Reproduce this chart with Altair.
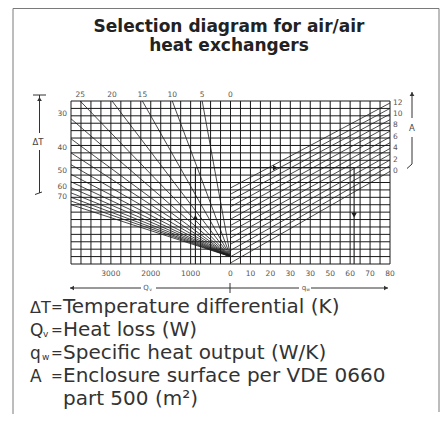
import altair as alt
import pandas as pd

# ---------------- values ----------------
# Left quadrant: heat loss Qv (W) – 0 at the centre line, 4000 at the left edge
Qv_grid = [0, 250, 500, 750, 1000, 1250, 1500, 1750, 2000, 2250, 2500, 2750,
           3000, 3250, 3500, 3750, 4000]
# Right quadrant: specific heat output qw (W/K) – 0 .. 80
qw_grid = [0, 5, 10, 15, 20, 25, 30, 35, 40, 45, 50, 55, 60, 65, 70, 75, 80]
# Horizontal grid rows (nomogram level, 0 = pivot of the ΔT fan)
level_grid = [-1, 0, 1, 2, 3, 4, 5, 6, 7, 8, 9, 10, 11, 12, 13, 14, 15, 16,
              17, 18, 19, 20, 21]

# ΔT lines (K): all start at the pivot, end on the top or left border
dT_values = [5, 10, 15, 20, 25, 30, 35, 40, 45, 50, 55, 60, 65, 70, 75, 80]
dT_end_Qv = [710, 1460, 2210, 2970, 3770, 4000, 4000, 4000, 4000, 4000, 4000,
             4000, 4000, 4000, 4000, 4000]
dT_end_level = [21, 21, 21, 21, 21, 18.6, 15.9, 14.0, 12.4, 11.1, 10.1, 9.3,
                8.6, 8.0, 7.5, 7.0]

# Enclosure surface lines A (m²): level at qw = 0 and at qw = 80
A_values = [0, 1, 2, 3, 4, 5, 6, 7, 8, 9, 10, 11, 12]
A_level_q0 = [-0.86, -0.02, 0.83, 1.67, 2.51, 3.36, 4.20, 5.04, 5.88, 6.73,
              7.57, 8.42, 9.26]
A_level_q80 = [11.50, 12.27, 13.04, 13.80, 14.59, 15.37, 16.14, 16.93, 17.72,
               18.48, 19.24, 20.00, 20.73]

# Worked example drawn in the chart
example_Qv = 880
example_level = 12
example_qw = 62
example_arrows_side = ["Q", "q", "q"]
example_arrows_val = [880, 22.5, 62]
example_arrows_level = [5.3, 12, 5.6]
example_arrows_shape = ["triangle-up", "triangle-right", "triangle-down"]

# Tick labels
Qv_tick_values = [3000, 2000, 1000, 0]
Qv_tick_labels = ["3000", "2000", "1000", "0"]
qw_tick_values = [10, 20, 30, 40, 50, 60, 70, 80]
qw_tick_labels = ["10", "20", "30", "30", "50", "60", "70", "80"]
dT_top_labels = ["25", "20", "15", "10", "5", "0"]
dT_top_Qv = [3770, 2970, 2210, 1460, 710, 0]
dT_left_labels = ["30", "40", "50", "60", "70"]
dT_left_level = [19.3, 14.6, 11.5, 9.4, 8.0]
A_labels = ["12", "10", "8", "6", "4", "2", "0"]
A_label_level = [20.73, 19.24, 17.72, 16.14, 14.59, 13.04, 11.50]

title_lines = ["Selection diagram for air/air", "heat exchangers"]
legend_symbols = ["ΔT", "Q", "q", "A"]
legend_subs = ["", "v", "w", ""]
legend_texts = ["Temperature differential (K)", "Heat loss (W)",
                "Specific heat output (W/K)", "Enclosure surface per VDE 0660",
                "part 500 (m²)"]

# ---------------- chart ----------------
W, H = 319, 163
FONT = "DejaVu Sans"
INK = "#1a1a1a"
XS = alt.Scale(domain=[-16, 16], nice=False, zero=False)
YS = alt.Scale(domain=[-1, 21], nice=False, zero=False)


def tocol(s, v):
    return f"datum.{s} == 'Q' ? -datum.{v} / 250 : datum.{v} / 5"


def seg_layer(rows, width, color=INK):
    df = pd.DataFrame(rows, columns=["s0", "v0", "l0", "s1", "v1", "l1"])
    return alt.Chart(df).transform_calculate(
        c0=tocol("s0", "v0"), c1=tocol("s1", "v1")
    ).mark_rule(color=color, strokeWidth=width).encode(
        x=alt.X("c0:Q", scale=XS, axis=None),
        y=alt.Y("l0:Q", scale=YS, axis=None),
        x2="c1:Q", y2="l1:Q")


grid_rows = ([("Q", v, -1, "Q", v, 21) for v in Qv_grid] +
             [("q", v, -1, "q", v, 21) for v in qw_grid] +
             [("Q", 4000, l, "q", 80, l) for l in level_grid])
dt_rows = [("Q", 0, 0, "Q", q, l) for q, l in zip(dT_end_Qv, dT_end_level)]
a_rows = [("q", 0, a0, "q", 80, a1) for a0, a1 in zip(A_level_q0, A_level_q80)]
path_rows = [("Q", example_Qv, -1, "Q", example_Qv, example_level),
             ("Q", example_Qv, example_level, "q", example_qw, example_level),
             ("q", example_qw, example_level, "q", example_qw, -1)]

layers = [seg_layer(grid_rows, 1.0), seg_layer(dt_rows, 0.8),
          seg_layer(a_rows, 0.8), seg_layer(path_rows, 1.1)]

arrows = pd.DataFrame({"s": example_arrows_side, "v": example_arrows_val,
                       "l": example_arrows_level, "shape": example_arrows_shape})
layers.append(alt.Chart(arrows).transform_calculate(c=tocol("s", "v")).mark_point(
    filled=True, color=INK, opacity=1, size=30).encode(
    x=alt.X("c:Q", scale=XS, axis=None), y=alt.Y("l:Q", scale=YS, axis=None),
    shape=alt.Shape("shape:N", scale=None)))


def label_layer(df, **kw):
    return alt.Chart(df).transform_calculate(c=tocol("s", "v")).mark_text(
        font=FONT, color="#555", fontSize=7.5, **kw).encode(
        x=alt.X("c:Q", scale=XS, axis=None), y=alt.Y("l:Q", scale=YS, axis=None),
        text="t:N")


bottom_df = pd.DataFrame({"s": ["Q"] * 4 + ["q"] * 8,
                          "v": Qv_tick_values + qw_tick_values, "l": -1,
                          "t": Qv_tick_labels + qw_tick_labels})
top_df = pd.DataFrame({"s": "Q", "v": dT_top_Qv, "l": 21, "t": dT_top_labels})
left_df = pd.DataFrame({"s": "Q", "v": 4000, "l": dT_left_level, "t": dT_left_labels})
right_df = pd.DataFrame({"s": "q", "v": 80, "l": A_label_level, "t": A_labels})
layers += [label_layer(bottom_df, dy=10),
           label_layer(top_df, dy=-6),
           label_layer(left_df, align="right", dx=-4),
           label_layer(right_df, align="left", dx=3)]

# ---------------- decorations (pixel positions relative to plot area) ----------------
deco_rules = pd.DataFrame([
    (-58, -92.5, -58, 313), (-58, -92.5, 368, -92.5), (368, -92.5, 368, 311),  # frame
    (-38, -6, -25, -6), (-31.5, -6, -31.5, 32), (-31.5, 49, -31.5, 92),        # ΔT arrow
    (-36, 93.5, -29, 91),
    (341, -9, 341, 17), (341, 36, 341, 63), (341, 63, 336, 67.5),              # A arrow
    (-1, 187, 70, 187), (85, 187, 228, 187), (240, 187, 317, 187),             # Qv / qw
    (159, 182, 159, 192),
], columns=["x", "y", "x2", "y2"])
deco_rules["k"] = ["frame"] * 3 + ["ink"] * 11
layers.append(alt.Chart(deco_rules).mark_rule(strokeWidth=1).encode(
    x=alt.X("x:Q", scale=None, axis=None), y=alt.Y("y:Q", scale=None, axis=None),
    x2="x2:Q", y2="y2:Q",
    color=alt.Color("k:N", scale=alt.Scale(domain=["frame", "ink"],
                                           range=["#7a7a7a", "#333"]), legend=None)))

deco_pts = pd.DataFrame({"x": [-31.5, 341, 1, 315], "y": [-2, -7, 187, 187],
                         "shape": ["triangle-up", "triangle-up", "triangle-left",
                                   "triangle-right"]})
layers.append(alt.Chart(deco_pts).mark_point(filled=True, color="#333", opacity=1,
                                             size=22).encode(
    x=alt.X("x:Q", scale=None, axis=None), y=alt.Y("y:Q", scale=None, axis=None),
    shape=alt.Shape("shape:N", scale=None)))


def text_layer(xs, ys, texts, size, align="left", baseline="alphabetic",
               weight="normal", color="#333"):
    df = pd.DataFrame({"x": xs, "y": ys, "t": texts})
    return alt.Chart(df).mark_text(font=FONT, fontSize=size, align=align,
                                   baseline=baseline, fontWeight=weight,
                                   color=color).encode(
        x=alt.X("x:Q", scale=None, axis=None), y=alt.Y("y:Q", scale=None, axis=None),
        text="t:N")


layers.append(text_layer([158, 158], [-69, -50], title_lines, 17, align="center",
                         weight="bold", color="#222"))
layers.append(text_layer([-33, 341], [41, 27], ["ΔT", "A"], 8.5, align="center",
                         baseline="middle", color="#444"))
layers.append(text_layer([75, 233], [187, 187], ["Q", "q"], 7, align="center",
                         baseline="middle", color="#555"))
layers.append(text_layer([79.5, 237], [189, 189], ["v", "w"], 4.5, align="center",
                         baseline="middle", color="#555"))

base = [212.3, 235, 258, 280.7, 304]
layers.append(text_layer([-41], [base[0]], [legend_symbols[0]], 16))
layers.append(text_layer([-41] * 3, base[1:4], legend_symbols[1:4], 17))
layers.append(text_layer([-28, -29], [base[1] + 1, base[2] + 1],
                         [legend_subs[1], legend_subs[2]], 9))
layers.append(text_layer([-20] * 4, [b - 1 for b in base[:4]], ["="] * 4, 14))
layers.append(text_layer([-8] * 5, base, legend_texts, 20))

chart = alt.layer(*layers).resolve_scale(x="independent", y="independent").properties(
    width=W, height=H,
    padding={"left": 63, "top": 93, "right": 50, "bottom": 150},
    autosize=alt.AutoSizeParams(type="none"),
    background="white",
).configure_view(stroke=None)

chart.save("out.html", embed_options={"renderer": "svg", "actions": False})
